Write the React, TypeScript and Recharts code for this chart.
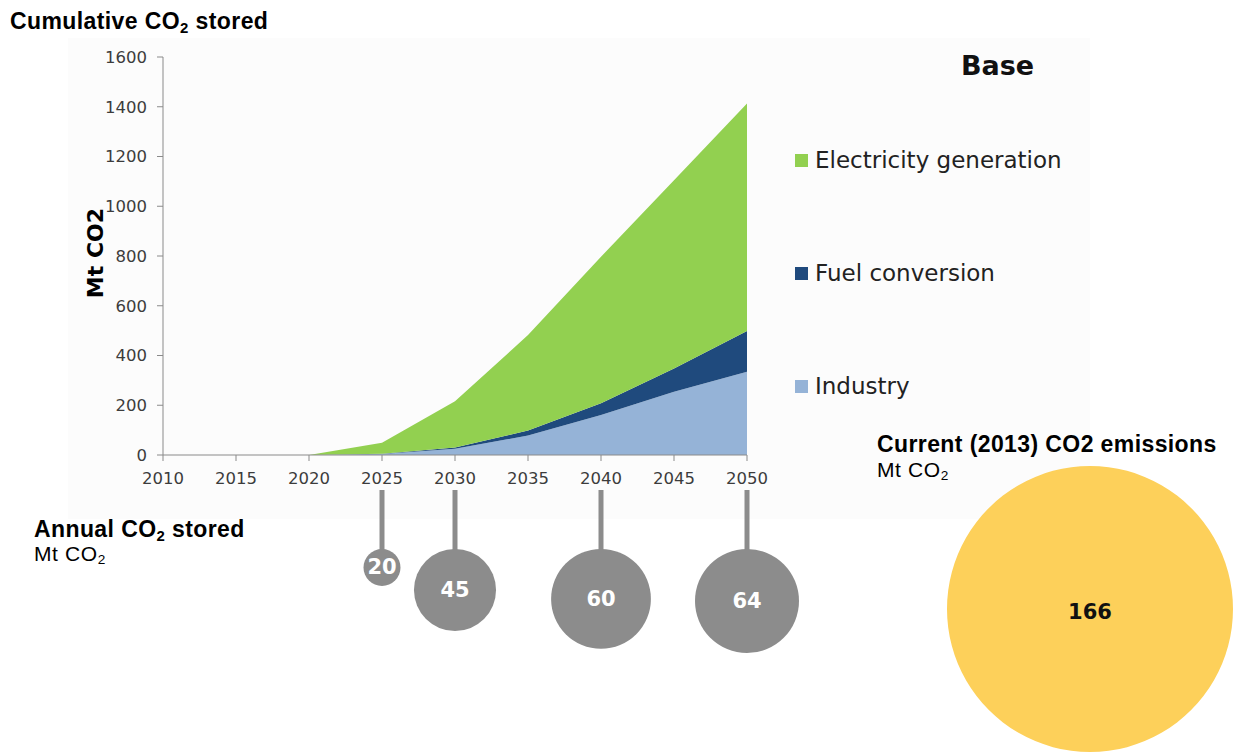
import React from "react";
import {
  AreaChart, Area, XAxis, YAxis, Legend,
  ScatterChart, Scatter, ZAxis,
  PieChart, Pie, Cell,
} from "recharts";

// cumulative CO2 stored, Mt (stacked)
const years = [2010, 2015, 2020, 2025, 2030, 2035, 2040, 2045, 2050];
const industry = [0, 0, 0, 4, 25, 78, 161, 254, 335];
const fuelConversion = [0, 0, 0, 1, 5, 20, 47, 94, 163];
const electricity = [0, 0, 0, 44, 186, 384, 589, 757, 915];
const yTicks = [0, 200, 400, 600, 800, 1000, 1200, 1400, 1600];

// annual CO2 stored, Mt
const annualYears = [2025, 2030, 2040, 2050];
const annualStored = [20, 45, 60, 64];

// current (2013) emissions, Mt
const currentLabel = ["Current (2013) CO2 emissions"];
const currentValue = [166];

const legendOrder = ["Electricity generation", "Fuel conversion", "Industry"];

const GREEN = "#92d050";
const NAVY = "#1f4a7d";
const LIGHT = "#95b3d7";
const GREY = "#8c8c8c";
const YELLOW = "#fdd05a";
const AXIS = "#8a8a8a";
const VERDANA = "'DejaVu Sans', Verdana, sans-serif";
const ARIAL = "'Liberation Sans', Arial, sans-serif";

const cumulative = years.map((year, i) => ({
  year,
  industry: industry[i],
  fuel: fuelConversion[i],
  electricity: electricity[i],
}));

const annual = annualYears.map((year, i) => ({ year, value: annualStored[i], anchor: 1 }));

const current = currentLabel.map((name, i) => ({ name, value: currentValue[i] }));

const tickStyle = { fontSize: 16.5, fill: "#3c3c3c", fontFamily: VERDANA };

function TextLine({ x, baseline, size, bold, children }: any) {
  return (
    <div
      style={{
        position: "absolute",
        left: x,
        top: baseline - 0.8465 * size,
        fontFamily: ARIAL,
        fontSize: size,
        lineHeight: `${size}px`,
        fontWeight: bold ? "bold" : "normal",
        letterSpacing: bold ? 0.4 : 0.6,
        color: "#000",
        whiteSpace: "nowrap",
      }}
    >
      {children}
    </div>
  );
}

const Sub = ({ children }: any) => (
  <sub style={{ fontSize: "0.65em", verticalAlign: "-0.25em", lineHeight: 0 }}>{children}</sub>
);

function renderLegend(props: any) {
  const items = [...(props.payload || [])].sort(
    (a: any, b: any) => legendOrder.indexOf(a.value) - legendOrder.indexOf(b.value)
  );
  return (
    <div>
      {items.map((it: any) => (
        <div
          key={it.value}
          style={{ display: "flex", alignItems: "center", height: 26, marginBottom: 87 }}
        >
          <span style={{ width: 13, height: 13, background: it.color, marginRight: 7 }} />
          <span style={{ fontFamily: VERDANA, fontSize: 23, color: "#222" }}>{it.value}</span>
        </div>
      ))}
    </div>
  );
}

function Bubble(props: any) {
  const { cx, cy, width, payload } = props;
  const r = width / 2;
  return (
    <g>
      <line x1={cx} x2={cx} y1={cy - 59} y2={cy + 4} stroke={GREY} strokeWidth={5} />
      <circle cx={cx} cy={cy + r} r={r} fill={GREY} />
      <text
        x={cx}
        y={cy + r}
        textAnchor="middle"
        dominantBaseline="central"
        fill="#fff"
        fontFamily={VERDANA}
        fontWeight="bold"
        fontSize={21}
      >
        {payload.value}
      </text>
    </g>
  );
}

export default function App() {
  return (
    <div
      style={{
        position: "absolute",
        left: 0,
        top: 0,
        width: 1239,
        height: 753,
        overflow: "hidden",
        background: "#fff",
      }}
    >
      <div style={{ position: "absolute", left: 68, top: 38, width: 1022, height: 481, background: "#fcfcfc" }} />

      <TextLine x={10} baseline={29.5} size={23} bold>
        Cumulative CO<Sub>2</Sub> stored
      </TextLine>
      <TextLine x={34} baseline={537} size={23} bold>
        Annual CO<Sub>2</Sub> stored
      </TextLine>
      <TextLine x={34} baseline={561} size={21}>
        Mt CO<Sub>2</Sub>
      </TextLine>
      <TextLine x={877} baseline={452.5} size={23} bold>
        Current (2013) CO2 emissions
      </TextLine>
      <TextLine x={877} baseline={477} size={21}>
        Mt CO<Sub>2</Sub>
      </TextLine>

      <div
        style={{
          position: "absolute",
          left: 961,
          top: 50,
          fontFamily: VERDANA,
          fontWeight: "bold",
          fontSize: 27,
          color: "#111",
        }}
      >
        Base
      </div>

      <div style={{ position: "absolute", left: 0, top: 0 }}>
        <AreaChart
          width={1239}
          height={520}
          data={cumulative}
          margin={{ top: 57, right: 492, bottom: 0, left: 0 }}
        >
          <XAxis
            dataKey="year"
            type="number"
            domain={[2010, 2050]}
            ticks={years}
            interval={0}
            height={65}
            tickSize={6}
            tickMargin={11}
            axisLine={{ stroke: AXIS }}
            tickLine={{ stroke: AXIS }}
            tick={tickStyle}
          />
          <YAxis
            width={163}
            type="number"
            domain={[0, 1600]}
            ticks={yTicks}
            interval={0}
            tickSize={6}
            tickMargin={10}
            axisLine={{ stroke: AXIS }}
            tickLine={{ stroke: AXIS }}
            tick={tickStyle}
            label={{
              value: "Mt CO2",
              content: () => (
                <text
                  x={95}
                  y={253}
                  transform="rotate(-90 95 253)"
                  textAnchor="middle"
                  dominantBaseline="central"
                  fontFamily={VERDANA}
                  fontWeight="bold"
                  fontSize={22}
                  fill="#000"
                >
                  Mt CO2
                </text>
              ),
            }}
          />
          <Legend
            layout="vertical"
            align="center"
            verticalAlign="middle"
            wrapperStyle={{ left: 795, top: 147, width: 340 }}
            content={renderLegend}
          />
          <Area
            dataKey="industry"
            name="Industry"
            stackId="a"
            type="linear"
            fill={LIGHT}
            fillOpacity={1}
            stroke="none"
            isAnimationActive={false}
          />
          <Area
            dataKey="fuel"
            name="Fuel conversion"
            stackId="a"
            type="linear"
            fill={NAVY}
            fillOpacity={1}
            stroke="none"
            isAnimationActive={false}
          />
          <Area
            dataKey="electricity"
            name="Electricity generation"
            stackId="a"
            type="linear"
            fill={GREEN}
            fillOpacity={1}
            stroke="none"
            isAnimationActive={false}
          />
        </AreaChart>
      </div>

      <div style={{ position: "absolute", left: 0, top: 490 }}>
        <ScatterChart width={1239} height={200} margin={{ top: 59, right: 492, bottom: 0, left: 163 }}>
          <XAxis dataKey="year" type="number" domain={[2010, 2050]} hide />
          <YAxis dataKey="anchor" type="number" domain={[0, 1]} hide />
          <ZAxis dataKey="value" type="number" domain={[20, 64]} range={[1075, 8495]} />
          <Scatter data={annual} shape={Bubble} isAnimationActive={false} />
        </ScatterChart>
      </div>

      <div style={{ position: "absolute", left: 940, top: 459 }}>
        <PieChart width={300} height={300} margin={{ top: 0, right: 0, bottom: 0, left: 0 }}>
          <Pie
            data={current}
            dataKey="value"
            nameKey="name"
            cx={150}
            cy={150}
            outerRadius={143}
            innerRadius={0}
            startAngle={90}
            endAngle={-270}
            stroke="none"
            labelLine={false}
            isAnimationActive={false}
            label={(p: any) => (
              <text
                x={p.cx}
                y={p.cy + 3}
                textAnchor="middle"
                dominantBaseline="central"
                fontFamily={VERDANA}
                fontWeight="bold"
                fontSize={21}
                fill="#111"
              >
                {p.value}
              </text>
            )}
          >
            {current.map((d) => (
              <Cell key={d.name} fill={YELLOW} />
            ))}
          </Pie>
        </PieChart>
      </div>
    </div>
  );
}
